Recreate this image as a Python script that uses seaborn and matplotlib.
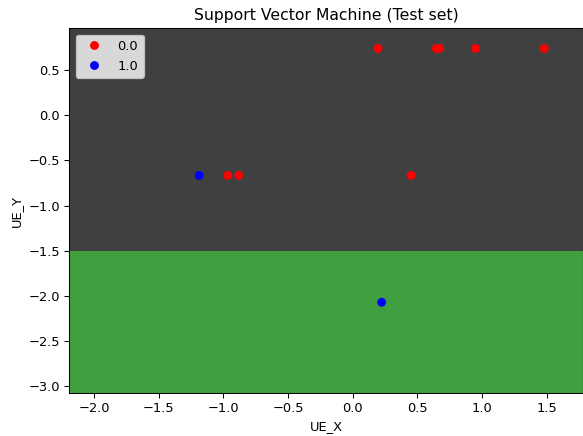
import matplotlib
matplotlib.use('Agg')
import matplotlib.pyplot as plt
import seaborn as sns
import pandas as pd

# test set points
ue_x = [0.196, 0.647, 0.673, 0.948, 1.481, -1.187, -0.968, -0.881, 0.451, 0.224]
ue_y = [0.737, 0.737, 0.737, 0.737, 0.737, -0.667, -0.667, -0.667, -0.667, -2.07]
labels = ['0.0', '0.0', '0.0', '0.0', '0.0', '1.0', '0.0', '0.0', '0.0', '1.0']

# decision regions
boundary_y = -1.5
x_lim = (-2.19, 1.78)
y_lim = (-3.07, 0.96)

df = pd.DataFrame({'UE_X': ue_x, 'UE_Y': ue_y, 'label': labels})

dpi = 94
fig = plt.figure(figsize=(583 / dpi, 436 / dpi), dpi=dpi)
ax = fig.add_axes([0.1189, 0.0993, 0.8811, 0.8358])

ax.axhspan(boundary_y, y_lim[1], color='black', alpha=0.75, lw=0)
ax.axhspan(y_lim[0], boundary_y, color='green', alpha=0.75, lw=0)

sns.scatterplot(data=df, x='UE_X', y='UE_Y', hue='label', hue_order=['0.0', '1.0'],
                palette={'0.0': 'red', '1.0': 'blue'}, s=46, linewidth=0, ax=ax)

ax.set_xlim(*x_lim)
ax.set_ylim(*y_lim)
ax.set_title('Support Vector Machine (Test set)')
ax.set_xlabel('UE_X')
ax.set_ylabel('UE_Y')
ax.legend(loc='upper left', title=None)

fig.savefig('out.png', dpi=dpi)
